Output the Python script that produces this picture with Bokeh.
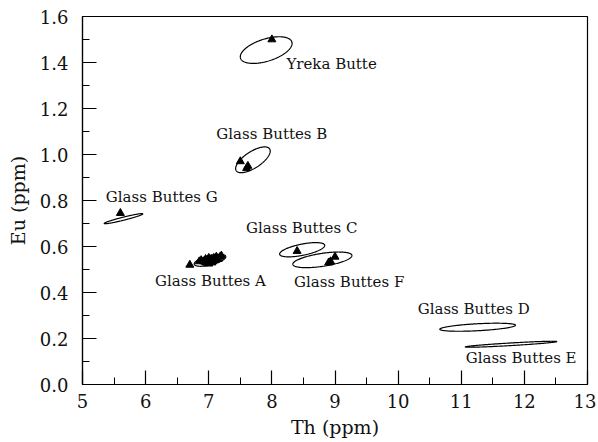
import numpy as np
from bokeh.plotting import figure
from bokeh.models import Range1d, ColumnDataSource, FixedTicker, LabelSet, PrintfTickFormatter
from bokeh.core.properties import value
from bokeh.embed import file_html
from bokeh.resources import INLINE

# Group names (label text) and confidence-ellipse parameters
groups = ["Yreka Butte", "Glass Buttes B", "Glass Buttes G", "Glass Buttes A",
          "Glass Buttes C", "Glass Buttes F", "Glass Buttes D", "Glass Buttes E"]
ell_cx = [7.91, 7.70, 5.65, 7.02, 8.48, 8.80, 11.26, 11.79]
ell_cy = [1.454, 0.977, 0.721, 0.540, 0.586, 0.542, 0.249, 0.175]
ell_rx = [0.41, 0.274, 0.306, 0.25, 0.357, 0.468, 0.60, 0.726]
ell_ry = [0.058, 0.056, 0.022, 0.026, 0.031, 0.034, 0.0175, 0.013]
ell_rho = [0.5, 0.68, 0.95, 0.6, 0.6, 0.55, 0.5, 0.9]

# Label anchor positions (data units)
label_x = [8.23, 7.12, 5.37, 6.15, 7.59, 8.35, 10.31, 11.07]
label_y = [1.393, 1.088, 0.814, 0.448, 0.681, 0.445, 0.327, 0.115]

# Individual samples (Th ppm, Eu ppm)
th = [8.00,
      7.50, 7.60, 7.62,
      5.60,
      6.70, 6.85, 6.88, 6.92, 6.95, 6.97, 7.00, 7.02, 7.04, 7.05, 7.08, 7.10,
      7.12, 7.15, 7.18, 7.20, 6.95, 7.00, 7.06,
      8.40,
      8.90, 8.93, 9.00]
eu = [1.50,
      0.97, 0.94, 0.95,
      0.745,
      0.52, 0.535, 0.54, 0.535, 0.545, 0.53, 0.55, 0.54, 0.545, 0.53, 0.55, 0.54,
      0.555, 0.545, 0.555, 0.56, 0.53, 0.525, 0.535,
      0.58,
      0.53, 0.535, 0.555]

x_ticks = [5, 6, 7, 8, 9, 10, 11, 12, 13]
y_ticks = [0.0, 0.2, 0.4, 0.6, 0.8, 1.0, 1.2, 1.4, 1.6]

FONT = "DejaVu Serif"

p = figure(width=596, height=440, output_backend="svg", toolbar_location=None,
           x_range=Range1d(5, 13), y_range=Range1d(0, 1.6),
           min_border_left=82, min_border_right=9, min_border_top=16, min_border_bottom=56)
p.grid.visible = False
p.outline_line_color = "black"
p.outline_line_width = 1.2
p.background_fill_color = "white"
p.border_fill_color = "white"

p.xaxis.ticker = FixedTicker(ticks=x_ticks, minor_ticks=[t + 0.5 for t in x_ticks[:-1]])
p.yaxis.ticker = FixedTicker(ticks=y_ticks, minor_ticks=[t + 0.1 for t in y_ticks[:-1]])
p.yaxis.formatter = PrintfTickFormatter(format="%.1f")
for ax in (p.xaxis[0], p.yaxis[0]):
    ax.major_tick_in = 14
    ax.major_tick_out = 0
    ax.minor_tick_in = 7
    ax.minor_tick_out = 0
    ax.axis_line_color = "black"
    ax.axis_line_width = 1.2
    ax.major_tick_line_color = "black"
    ax.minor_tick_line_color = "black"
    ax.major_tick_line_width = 1.2
    ax.minor_tick_line_width = 1.0
    ax.major_label_text_font = FONT
    ax.major_label_text_font_size = "18px"
    ax.major_label_text_color = "#111111"
    ax.axis_label_text_font = FONT
    ax.axis_label_text_font_size = "19px"
    ax.axis_label_text_font_style = "normal"
    ax.axis_label_text_color = "#111111"
p.xaxis.major_label_standoff = 9
p.yaxis.major_label_standoff = 14
p.xaxis.axis_label = "Th (ppm)"
p.yaxis.axis_label = "Eu (ppm)"
p.xaxis.axis_label_standoff = 5
p.yaxis.axis_label_standoff = 8

# Ellipses as closed outlines computed from center, extents and correlation
t = np.linspace(0, 2 * np.pi, 200)
xs, ys = [], []
for cx, cy, rx, ry, rho in zip(ell_cx, ell_cy, ell_rx, ell_ry, ell_rho):
    xs.append(list(cx + rx * np.cos(t)))
    ys.append(list(cy + ry * (rho * np.cos(t) + np.sqrt(1 - rho ** 2) * np.sin(t))))
p.multi_line(xs=xs, ys=ys, line_color="black", line_width=1.2)

p.scatter(th, eu, marker="triangle", size=8, fill_color="black", line_color="black")

src = ColumnDataSource(dict(x=label_x, y=label_y, text=groups))
p.add_layout(LabelSet(x="x", y="y", text="text", source=src, text_font=value(FONT),
                      text_font_size="15px", text_color="#111111",
                      text_baseline="middle", text_align="left"))

open("out.html", "w").write(file_html(p, INLINE))
